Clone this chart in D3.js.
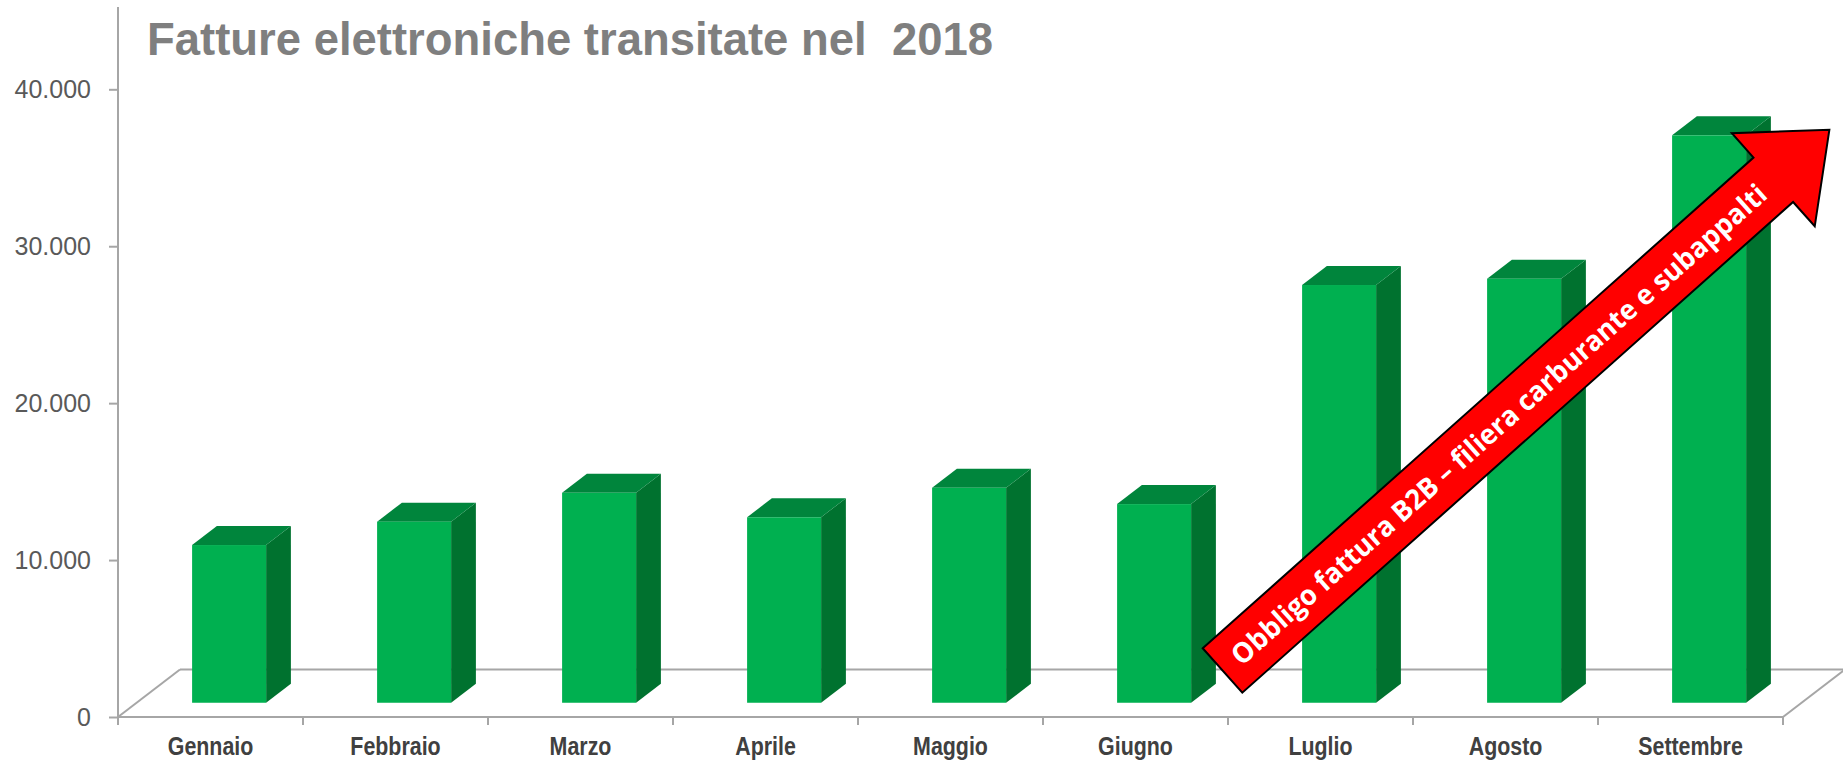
<!DOCTYPE html>
<html>
<head>
<meta charset="utf-8">
<script src="https://cdn.jsdelivr.net/npm/d3@7"></script>
<style>
  html, body { margin: 0; padding: 0; background: #ffffff; }
  svg { display: block; }
</style>
</head>
<body>
<svg id="chart" width="1843" height="764"></svg>
<script>
// ---- data ----
const months = ["Gennaio", "Febbraio", "Marzo", "Aprile", "Maggio", "Giugno", "Luglio", "Agosto", "Settembre"];
const values = [10050, 11540, 13380, 11820, 13700, 12660, 26620, 27020, 36160];
const yTicks = [0, 10000, 20000, 30000, 40000];
const titleText = "Fatture elettroniche transitate nel  2018";
const arrowLabel = "Obbligo fattura B2B \u2013 filiera carburante e subappalti";

// ---- layout ----
const W = 1843, H = 764;
const X0 = 118, X1 = 1783, YBASE = 717, YMAX = 89.3;
const DX = 62, DY = -47.5;            // floor depth offset
const F0 = 0.3, F1 = 0.7;             // bar depth position within floor
const narrow = "'Liberation Sans Narrow', 'Arial Narrow', 'Liberation Sans', Arial, sans-serif";

const svg = d3.select("#chart");

const x = d3.scaleBand().domain(months).range([X0, X1]).paddingInner(0.6).paddingOuter(0.3);
const y = d3.scaleLinear().domain([0, 40000]).range([YBASE, YMAX]);

const it = d3.formatLocale({decimal: ",", thousands: ".", grouping: [3], currency: ["\u20ac", ""]});
const fmt = it.format(",");

const gridColor = "#a6a6a6";

// floor (back line + diagonals)
const floor = svg.append("g").attr("fill", "none").attr("stroke", gridColor).attr("stroke-width", 2);
floor.append("line").attr("x1", X0 + DX).attr("y1", YBASE + DY).attr("x2", X1 + DX).attr("y2", YBASE + DY);
floor.append("line").attr("x1", X0).attr("y1", YBASE).attr("x2", X0 + DX).attr("y2", YBASE + DY);
floor.append("line").attr("x1", X1).attr("y1", YBASE).attr("x2", X1 + DX).attr("y2", YBASE + DY);

// bars
const bw = x.bandwidth();
const bdx = (F1 - F0) * DX, bdy = (F1 - F0) * DY;
const bars = svg.append("g").selectAll("g").data(months.map((m, i) => ({m, v: values[i]}))).join("g");
bars.each(function(d) {
  const g = d3.select(this);
  const fx = x(d.m) + F0 * DX;
  const bot = y(0) + F0 * DY;
  const top = y(d.v) + F0 * DY;
  g.append("polygon")
    .attr("points", [[fx + bw, top], [fx + bw + bdx, top + bdy], [fx + bw + bdx, bot + bdy], [fx + bw, bot]].map(p => p.join(",")).join(" "))
    .attr("fill", "#00722f");
  g.append("polygon")
    .attr("points", [[fx, top], [fx + bw, top], [fx + bw + bdx, top + bdy], [fx + bdx, top + bdy]].map(p => p.join(",")).join(" "))
    .attr("fill", "#00853c");
  g.append("rect").attr("x", fx).attr("y", top).attr("width", bw).attr("height", bot - top).attr("fill", "#00b050");
});

// y axis
const yAxis = svg.append("g").attr("transform", `translate(${X0},0)`)
  .call(d3.axisLeft(y).tickValues(yTicks).tickFormat(fmt).tickSize(9).tickPadding(18));
yAxis.select(".domain").remove();
yAxis.selectAll(".tick line").attr("stroke", gridColor).attr("stroke-width", 2);
yAxis.selectAll(".tick text").attr("fill", "#595959")
  .style("font-family", "'Liberation Sans', Arial, sans-serif").style("font-size", "25px");
svg.append("line").attr("x1", X0).attr("x2", X0).attr("y1", 7).attr("y2", YBASE)
  .attr("stroke", gridColor).attr("stroke-width", 2);

// x axis (front edge)
const xAxis = svg.append("g").attr("transform", `translate(0,${YBASE})`)
  .call(d3.axisBottom(x).tickSize(0).tickPadding(0));
xAxis.select(".domain").remove();
xAxis.selectAll(".tick text").attr("fill", "#404040").attr("y", 38).attr("dy", 0)
  .style("font-family", narrow).style("font-size", "25px").style("font-weight", "bold")
  .each(function() {
    const len = this.getComputedTextLength();
    d3.select(this).attr("textLength", len * 0.855).attr("lengthAdjust", "spacingAndGlyphs");
  });
svg.append("line").attr("x1", X0).attr("x2", X1).attr("y1", YBASE).attr("y2", YBASE)
  .attr("stroke", gridColor).attr("stroke-width", 2);
const bounds = months.map(m => x(m) - x.step() * x.paddingOuter()).concat([X1]);
svg.append("g").selectAll("line").data(bounds).join("line")
  .attr("x1", d => d).attr("x2", d => d).attr("y1", YBASE).attr("y2", YBASE + 8)
  .attr("stroke", gridColor).attr("stroke-width", 2);

// title
svg.append("text").attr("x", 147).attr("y", 55)
  .attr("fill", "#7f7f7f").style("font-family", narrow).style("font-size", "47px").style("font-weight", "bold")
  .attr("textLength", 846).attr("lengthAdjust", "spacingAndGlyphs")
  .style("white-space", "pre").text(titleText);

// arrow annotation
const tail = [1222.5, 670.5], ang = -41.7;
const L = 737.7, hw = 29.75, hhw = 62.3, hl = 75.1;
const ag = svg.append("g").attr("transform", `translate(${tail[0]},${tail[1]}) rotate(${ang})`);
ag.append("polygon")
  .attr("points", [[0, -hw], [L, -hw], [L, -hhw], [L + hl, 0], [L, hhw], [L, hw], [0, hw]].map(p => p.join(",")).join(" "))
  .attr("fill", "#ff0000").attr("stroke", "#000000").attr("stroke-width", 2).attr("stroke-linejoin", "miter");
ag.append("text").attr("x", 370).attr("y", 10).attr("text-anchor", "middle")
  .attr("fill", "#ffffff").style("font-family", "'Open Sans', 'Liberation Sans', sans-serif")
  .style("font-size", "28px").style("font-weight", "bold")
  .attr("textLength", 706).attr("lengthAdjust", "spacingAndGlyphs")
  .text(arrowLabel);
</script>
</body>
</html>
